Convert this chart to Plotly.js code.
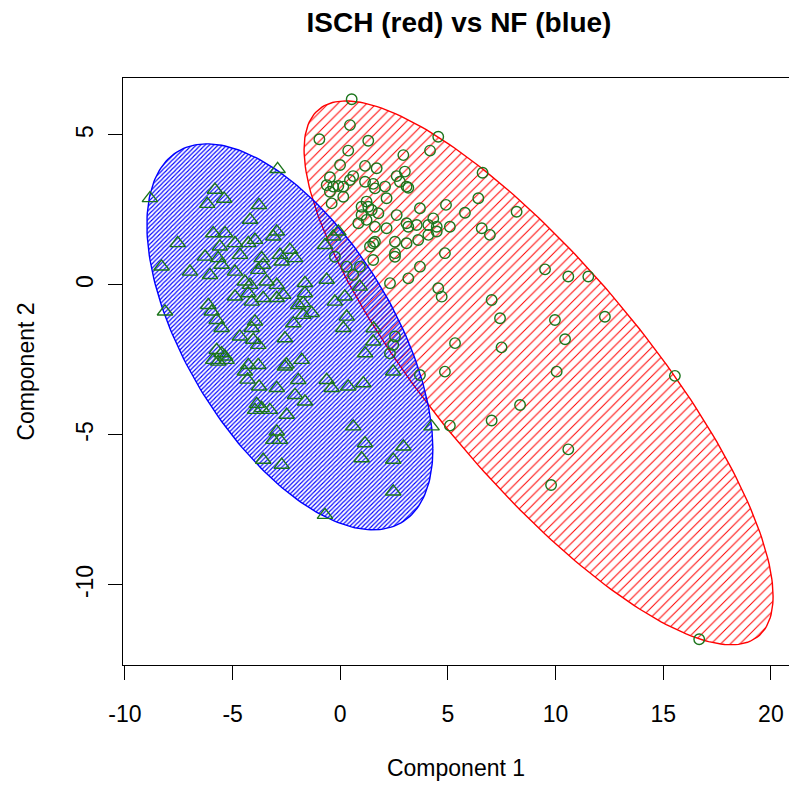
<!DOCTYPE html>
<html>
<head>
<meta charset="utf-8">
<script src="https://cdn.plot.ly/plotly-3.0.1.min.js"></script>
<style>
  html, body { margin: 0; padding: 0; background: #fff; overflow: hidden; }
  #chart { width: 789px; height: 788px; }
</style>
</head>
<body>
<div id="chart"></div>
<script>
// ---- Data ----
// NF group (blue ellipse, triangles)
const nfX = [-8.84,-2.91,-5.82,-5.39,-6.18,-3.78,-4.19,-7.55,-5.90,-5.35,-5.59,-4.89,-4.27,-3.96,-2.95,-3.11,
  -6.28,-5.67,-5.51,-4.66,-3.65,-3.58,-3.81,-2.80,-2.34,-2.10,-2.72,-8.30,-6.98,-6.05,-4.89,-3.42,-4.43,-1.64,
  -0.63,-0.71,-4.89,-4.27,-3.58,-2.95,-2.65,-1.64,-1.72,-6.13,-5.97,-8.14,-3.96,-2.18,-1.33,
  -4.19,-2.95,-4.11,-1.95,-1.72,-0.25,0.30,0.14,-5.74,-5.51,-4.11,-4.66,-4.04,-3.81,-2.57,
  -5.74,-5.51,-5.35,-5.90,-5.67,-5.28,-4.27,-3.81,-4.43,-2.57,-2.50,-1.79,-3.77,-4.31,-2.95,-1.95,-2.10,-1.64,
  -3.88,-3.96,-3.65,-3.27,-2.49,-0.63,0.37,-0.40,
  -2.95,-3.11,-2.80,-3.58,-2.72,0.60,1.15,0.99,2.46,2.93,2.46,-0.71,4.24,
  2.46,1.15,1.53,1.07,1.55,0.91,0.21,-0.09,-0.33];
const nfY = [2.89,3.86,3.17,2.87,2.70,2.66,2.17,1.39,1.72,1.72,1.28,1.39,1.39,1.50,1.78,1.61,
  0.94,0.89,0.67,1.00,0.89,0.67,0.50,1.00,1.17,0.89,0.78,0.61,0.44,0.33,0.44,0.11,0.11,0.06,
  0.17,1.33,-0.39,-0.28,-0.44,-0.44,-0.33,-0.28,-0.61,-0.67,-0.89,-0.89,-1.22,-1.28,-0.94,
  0.00,0.00,-0.56,-0.67,-1.00,-0.56,-1.06,-1.44,-1.17,-1.44,-1.44,-1.72,-1.83,-2.00,-1.78,
  -2.17,-2.28,-2.39,-2.50,-2.56,-2.50,-2.67,-2.67,-2.89,-2.72,-2.65,-2.50,-3.39,-3.16,-3.44,-3.17,-3.67,-3.89,
  -3.97,-4.17,-4.11,-4.17,-4.33,-3.17,-3.39,-3.44,
  -4.89,-5.17,-5.17,-5.83,-6.00,-4.72,-5.28,-5.78,-5.83,-5.39,-6.89,-7.67,-4.72,
  -2.89,-2.28,-1.89,-3.28,-1.45,-0.06,-0.39,1.78,1.61];

// ISCH group (red ellipse, circles)
const ischX = [0.53,0.45,-0.97,1.30,4.55,0.37,4.17,2.93,-0.01,1.15,1.69,3.00,6.61,-0.48,0.60,-0.63,-0.33,-0.09,
  -0.48,0.14,0.45,1.15,1.53,1.61,2.08,2.15,2.62,3.08,3.16,2.77,0.14,-0.40,1.22,1.30,0.99,1.46,1.77,0.99,0.84,
  1.61,1.22,2.15,2.62,3.70,4.91,5.79,6.41,8.19,3.08,3.16,3.55,4.09,4.32,4.48,4.48,5.09,6.57,6.95,4.09,3.62,
  3.08,2.54,1.53,1.61,1.38,2.54,2.54,1.53,4.86,3.70,3.16,2.31,4.55,4.71,-0.25,0.30,0.60,0.91,9.51,10.59,
  11.52,7.03,7.42,9.97,10.44,5.33,7.49,2.54,2.46,2.31,3.70,4.86,10.05,8.35,7.03,5.09,10.59,12.29,15.54,
  9.79,16.67];
const ischY = [6.19,5.33,4.86,4.81,4.94,4.48,4.48,4.33,4.00,3.97,3.89,3.78,3.74,3.59,3.63,3.33,3.28,3.30,
  3.11,3.28,3.50,3.44,3.37,3.22,3.28,2.89,3.63,3.28,3.24,3.44,2.94,2.72,2.78,2.61,2.61,2.50,2.39,2.33,2.06,
  1.94,2.17,1.89,2.33,2.56,2.67,2.41,2.89,2.44,2.06,1.94,2.00,2.00,2.22,1.94,1.78,1.94,1.89,1.67,1.67,1.50,
  1.39,1.44,1.39,1.44,1.28,1.06,0.94,0.83,1.06,0.61,0.22,0.06,-0.11,-0.39,0.94,0.61,0.33,0.61,0.52,0.28,
  0.28,-0.50,-1.11,-1.17,-1.81,-1.94,-2.08,-1.72,-2.00,-2.28,-3.00,-2.89,-2.89,-4.00,-4.52,-4.69,-5.48,-1.06,-3.03,
  -6.67,-11.81];

// Ellipse parameters (centre and covariance-like matrix [sxx, sxy, syy])
const nfEllipseCenter = [-2.34, -1.73];
const nfEllipseCov = [44.1, -24.8, 41.4];
const ischEllipseCenter = [9.21, -2.93];
const ischEllipseCov = [118.6, -81.1, 82.2];

const xTicks = [-10, -5, 0, 5, 10, 15, 20];
const yTicks = [-10, -5, 0, 5];

function ellipsePath(c, m) {
  const l11 = Math.sqrt(m[0]);
  const l21 = m[1] / l11;
  const l22 = Math.sqrt(m[2] - l21 * l21);
  const xs = [], ys = [];
  const n = 240;
  for (let i = 0; i <= n; i++) {
    const t = 2 * Math.PI * i / n;
    xs.push(c[0] + l11 * Math.cos(t));
    ys.push(c[1] + l21 * Math.cos(t) + l22 * Math.sin(t));
  }
  return {x: xs, y: ys};
}

const redE = ellipsePath(ischEllipseCenter, ischEllipseCov);
const blueE = ellipsePath(nfEllipseCenter, nfEllipseCov);
const green = '#1c751c';

const traces = [
  {
    x: redE.x, y: redE.y, type: 'scatter', mode: 'lines', name: 'ISCH ellipse',
    line: {color: '#ff0000', width: 1.4}, fill: 'toself',
    fillpattern: {shape: '/', fgcolor: '#ff0000', bgcolor: 'rgba(0,0,0,0)', size: 6.8, solidity: 0.15},
    hoverinfo: 'skip'
  },
  {
    x: blueE.x, y: blueE.y, type: 'scatter', mode: 'lines', name: 'NF ellipse',
    line: {color: '#0000ff', width: 1.4}, fill: 'toself',
    fillpattern: {shape: '/', fgcolor: '#0000ff', bgcolor: 'rgba(0,0,0,0)', size: 3.1, solidity: 0.36},
    hoverinfo: 'skip'
  },
  {
    x: ischX, y: ischY, type: 'scatter', mode: 'markers', name: 'ISCH',
    marker: {symbol: 'circle-open', size: 10.5, color: green, line: {width: 1.4, color: green}}
  },
  {
    x: nfX, y: nfY, type: 'scatter', mode: 'markers', name: 'NF',
    marker: {symbol: 'triangle-up-open', size: 13.5, color: green, line: {width: 1.4, color: green}}
  }
];

const font = 'Liberation Sans, Arial, Helvetica, sans-serif';
const layout = {
  width: 789, height: 788,
  margin: {l: 123, r: 0, t: 78, b: 123, pad: 0},
  paper_bgcolor: '#ffffff', plot_bgcolor: '#ffffff',
  showlegend: false,
  font: {family: font, color: '#000', size: 23},
  title: {
    text: '<b>ISCH (red) vs NF (blue)</b>',
    font: {family: font, size: 28, color: '#000'},
    x: 459 / 789, xref: 'container', xanchor: 'center',
    y: 1 - 22 / 788, yref: 'container', yanchor: 'middle'
  },
  xaxis: {
    range: [-10.09, 20.84], autorange: false,
    tickvals: xTicks, ticktext: xTicks.map(String),
    ticks: 'outside', ticklen: 14, tickwidth: 1, tickcolor: '#000',
    showline: true, linecolor: '#000', linewidth: 1, mirror: true,
    showgrid: false, zeroline: false,
    tickfont: {family: font, size: 23, color: '#000'},
    ticklabelstandoff: 14,
    title: {text: 'Component 1', font: {family: font, size: 23, color: '#000'}, standoff: 34}
  },
  yaxis: {
    range: [-12.67, 6.9], autorange: false,
    tickvals: yTicks, ticktext: yTicks.map(String), tickangle: -90,
    ticks: 'outside', ticklen: 14, tickwidth: 1, tickcolor: '#000',
    showline: true, linecolor: '#000', linewidth: 1, mirror: false,
    showgrid: false, zeroline: false,
    tickfont: {family: font, size: 23, color: '#000'},
    ticklabelstandoff: 6,
    title: {text: 'Component 2', font: {family: font, size: 23, color: '#000'}, standoff: 30}
  }
};

Plotly.newPlot('chart', traces, layout, {displayModeBar: false, staticPlot: true});
</script>
</body>
</html>
